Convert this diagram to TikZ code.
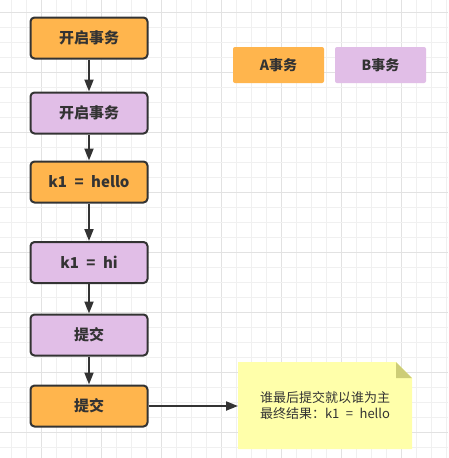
\documentclass[tikz,border=0pt]{standalone}
\usepackage{fontspec}
\setmainfont{Noto Sans CJK SC}
\usetikzlibrary{arrows.meta}
\definecolor{aorange}{HTML}{FFB54D}
\definecolor{bpurple}{HTML}{E1BEE7}
\definecolor{ink}{HTML}{333333}
\definecolor{notefill}{HTML}{FFFFAA}
\definecolor{notefold}{HTML}{CDCD77}
\definecolor{gridminor}{HTML}{F0F0F0}
\definecolor{gridmajor}{HTML}{E2E2E2}
\newcommand{\eqgap}{\hspace{0.5em}=\hspace{0.5em}}
\tikzset{
  stepbox/.style={draw=ink, line width=2pt, rounded corners=4pt, minimum width=117pt, minimum height=41pt, font=\fontsize{15}{17}\selectfont\bfseries, text=ink, inner sep=0pt},
  abox/.style={stepbox, fill=aorange},
  bbox/.style={stepbox, fill=bpurple},
  legendbox/.style={rounded corners=2pt, minimum width=91pt, minimum height=36pt, font=\fontsize{14}{16}\selectfont\bfseries, text=ink, inner sep=0pt},
  flow/.style={draw=ink, line width=2pt, -{Triangle[length=12pt,width=9pt]}},
}
\begin{document}
\begin{tikzpicture}[x=1pt,y=-1pt]
\useasboundingbox (0,0) rectangle (448,458);
\fill[white] (0,0) rectangle (448,458);
% grid
\foreach \k in {0,...,29} {
  \pgfmathtruncatemacro{\m}{mod(\k,4)}
  \ifnum\m=2 \draw[gridmajor, line width=1pt] ({11+15*\k},0) -- ({11+15*\k},458);
  \else \draw[gridminor, line width=1pt] ({11+15*\k},0) -- ({11+15*\k},458); \fi
}
\foreach \k in {0,...,29} {
  \pgfmathtruncatemacro{\m}{mod(\k,4)}
  \ifnum\m=0 \draw[gridmajor, line width=1pt] (0,{12+15*\k}) -- (448,{12+15*\k});
  \else \draw[gridminor, line width=1pt] (0,{12+15*\k}) -- (448,{12+15*\k}); \fi
}
% flow boxes
\node[abox] (s1) at (89,38) {开启事务};
\node[bbox] (s2) at (89,113) {开启事务};
\node[abox] (s3) at (89,182) {k1\eqgap hello};
\node[bbox] (s4) at (89,262.5) {k1\eqgap hi};
\node[bbox] (s5) at (89,335) {提交};
\node[abox] (s6) at (89,406) {提交};
\draw[flow] (s1) -- (s2);
\draw[flow] (s2) -- (s3);
\draw[flow] (s3) -- (s4);
\draw[flow] (s4) -- (s5);
\draw[flow] (s5) -- (s6);
% legend
\node[legendbox, fill=aorange] (la) at (278.5,65) {A事务};
\node[legendbox, fill=bpurple] (lb) at (380.5,65) {B事务};
% note
\fill[notefill] (238,362) -- (396,362) -- (412,378) -- (412,449) -- (238,449) -- cycle;
\fill[notefold] (396,362) -- (412,378) -- (396,378) -- cycle;
\node[font=\fontsize{13}{16}\selectfont, text=ink, align=center] (note) at (325,405.5) {谁最后提交就以谁为主\\最终结果：k1\eqgap hello};
\coordinate (noteleft) at (238,406);
\draw[flow] (s6.east) -- (noteleft);
\end{tikzpicture}
\end{document}
